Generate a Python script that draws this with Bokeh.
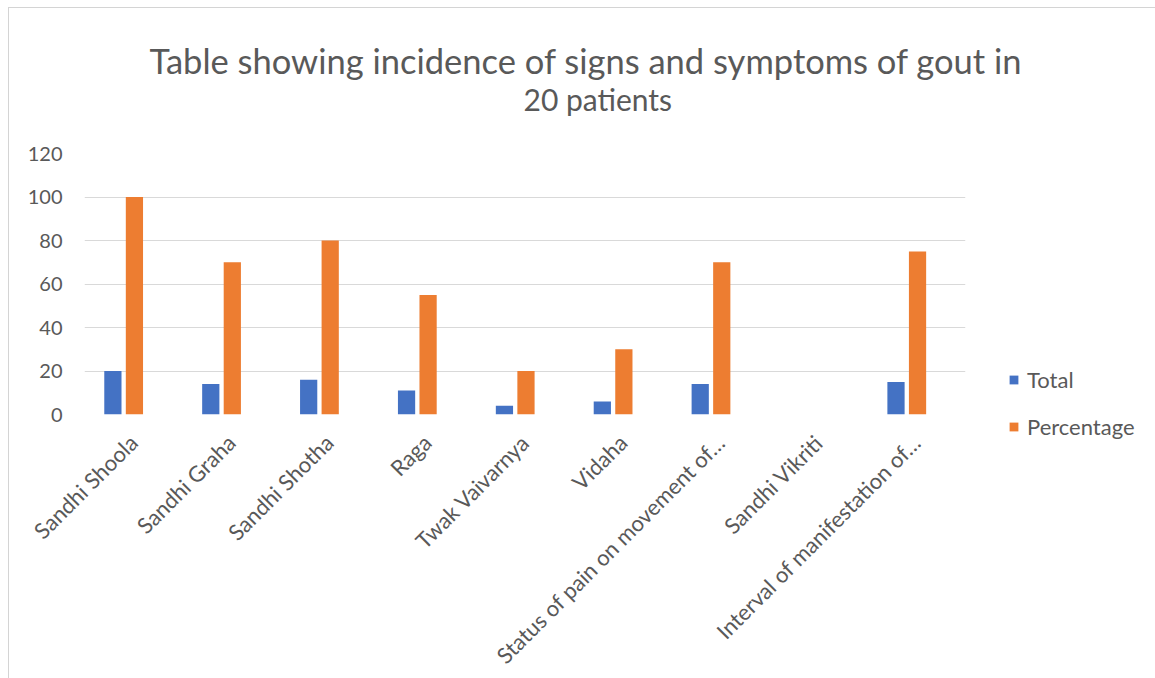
from math import pi

from bokeh.embed import file_html
from bokeh.models import FactorRange, FixedTicker, Legend, LegendItem, Range1d, Title
from bokeh.plotting import figure
from bokeh.resources import INLINE
from bokeh.transform import dodge

# Signs and symptoms recorded for 20 gout patients
symptoms = [
    "Sandhi Shoola",
    "Sandhi Graha",
    "Sandhi Shotha",
    "Raga",
    "Twak Vaivarnya",
    "Vidaha",
    "Status of pain on movement of…",
    "Sandhi Vikriti",
    "Interval of manifestation of…",
]
total = [20, 14, 16, 11, 4, 6, 14, 0, 15]
percentage = [100, 70, 80, 55, 20, 30, 70, 0, 75]
y_ticks = [0, 20, 40, 60, 80, 100, 120]

BLUE = "#4472C4"
ORANGE = "#ED7D31"
TEXT = "#595959"
GRID = "#D9D9D9"
FONT = "Lato"

data = dict(symptom=symptoms, total=total, percentage=percentage)

p = figure(
    x_range=FactorRange(*symptoms),
    y_range=Range1d(0, 120),
    frame_width=881,
    frame_height=261,
    min_border_left=75,
    min_border_right=191,
    min_border_top=145,
    min_border_bottom=258,
    output_backend="svg",
    toolbar_location=None,
    title=None,
)
p.styles = {
    "margin-left": "8px",
    "margin-top": "7px",
    "border-left": "1px solid #D4D4D4",
    "border-top": "1px solid #D4D4D4",
    "border-bottom": "1px solid #E4E4E4",
}
p.outline_line_color = None
p.background_fill_color = "white"
p.border_fill_color = "white"

r_total = p.vbar(x=dodge("symptom", -0.21, range=p.x_range), top="total", width=0.176,
                 source=data, fill_color=BLUE, line_color=None)
r_pct = p.vbar(x=dodge("symptom", 0.01, range=p.x_range), top="percentage", width=0.176,
               source=data, fill_color=ORANGE, line_color=None)

# Two-line heading, nearest line added first
p.add_layout(Title(text="20 patients", align="left", offset=439, text_font=FONT,
                   text_font_size="30px", text_font_style="normal", text_color=TEXT,
                   standoff=74), "above")
p.add_layout(Title(text="Table showing incidence of signs and symptoms of gout in",
                   align="left", offset=65, text_font=FONT, text_font_size="34.5px",
                   text_font_style="normal", text_color=TEXT, standoff=-79), "above")

# Axes
p.yaxis.ticker = FixedTicker(ticks=y_ticks)
p.yaxis.axis_line_color = None
p.yaxis.major_tick_line_color = None
p.yaxis.minor_tick_line_color = None
p.yaxis.major_label_standoff = 16
p.yaxis.major_label_text_font = FONT
p.yaxis.major_label_text_font_size = "20px"
p.yaxis.major_label_text_color = TEXT

p.xaxis.axis_line_color = None
p.xaxis.major_tick_line_color = None
p.xaxis.major_label_orientation = pi / 4
p.xaxis.major_label_standoff = 18
p.xaxis.major_label_text_font = FONT
p.xaxis.major_label_text_font_size = "22px"
p.xaxis.major_label_text_color = TEXT

p.xgrid.grid_line_color = None
p.ygrid.ticker = FixedTicker(ticks=y_ticks)
p.ygrid.grid_line_color = GRID
p.ygrid.grid_line_width = 1

legend = Legend(
    items=[LegendItem(label="Total", renderers=[r_total]),
           LegendItem(label="Percentage", renderers=[r_pct])],
    location=(43, -26),
    padding=0,
    margin=0,
    border_line_color=None,
    background_fill_alpha=0,
    glyph_width=11,
    glyph_height=11,
    label_height=20,
    spacing=20,
    label_standoff=8,
    label_text_font=FONT,
    label_text_font_size="22px",
    label_text_color=TEXT,
)
p.add_layout(legend, "right")

open("out.html", "w").write(file_html(p, INLINE))
